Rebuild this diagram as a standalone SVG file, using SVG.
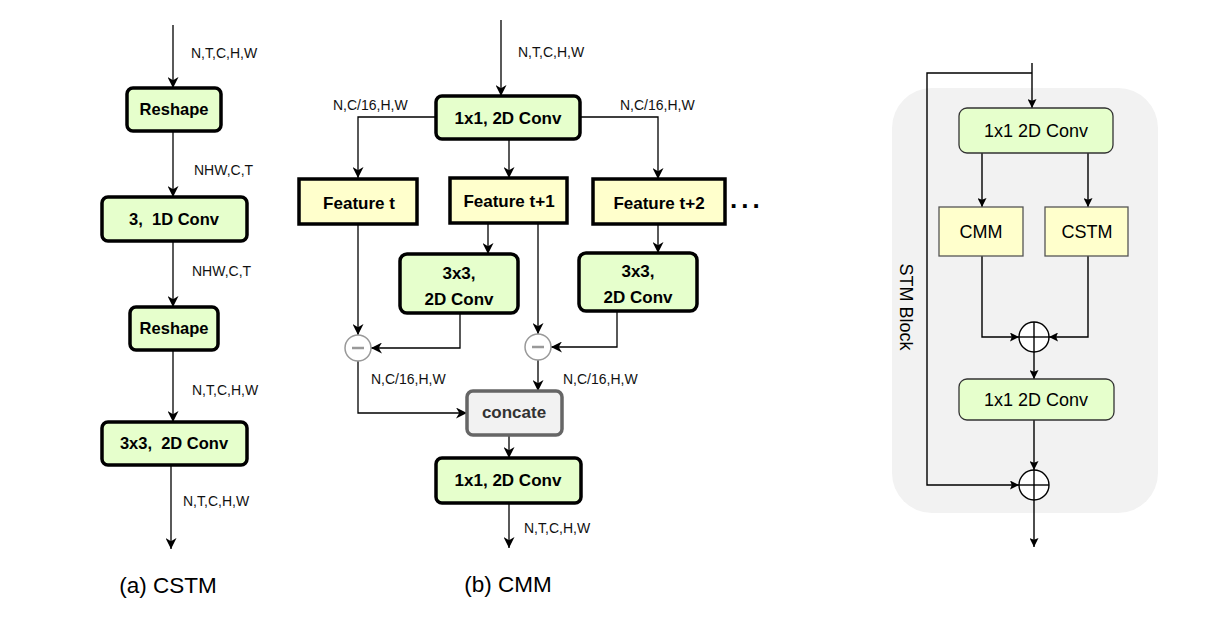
<svg xmlns="http://www.w3.org/2000/svg" width="1209" height="619" viewBox="0 0 1209 619">
<defs>
<marker id="ah" viewBox="0 0 10 10" refX="10" refY="5" markerWidth="11" markerHeight="11" markerUnits="userSpaceOnUse" orient="auto"><path d="M0,0 L10,5 L0,10 L3,5 z" fill="#000"/></marker>
<marker id="ahs" viewBox="0 0 10 10" refX="10" refY="5" markerWidth="9" markerHeight="9" markerUnits="userSpaceOnUse" orient="auto"><path d="M0,0 L10,5 L0,10 L2,5 z" fill="#000"/></marker>
</defs>
<style>
.bg{fill:#fff}
.gbox{fill:#e6ffcc;stroke:#000;stroke-width:3.5}
.ybox{fill:#ffffcc;stroke:#000;stroke-width:3.5}
.cbox{fill:#f2f2f2;stroke:#666;stroke-width:3.5}
.bt{font-family:"Liberation Sans",Arial,sans-serif;font-weight:bold;font-size:16.5px;fill:#000;text-anchor:middle}
.bt17{font-family:"Liberation Sans",Arial,sans-serif;font-weight:bold;font-size:17px;fill:#000;text-anchor:middle}
.lbl{font-family:"Liberation Sans",Arial,sans-serif;font-size:14px;fill:#111}
.cap{font-family:"Liberation Sans",Arial,sans-serif;font-size:22.5px;fill:#000;text-anchor:middle}
.conn{fill:none;stroke:#000;stroke-width:1.3}
.sconn{fill:none;stroke:#000;stroke-width:1.4}
.minus{fill:#fff;stroke:#999;stroke-width:1.5}
.mline{stroke:#999;stroke-width:2.5}
.sg{fill:#e6ffcc;stroke:#333;stroke-width:1.3}
.sy{fill:#ffffcc;stroke:#555;stroke-width:1.3}
.st{font-family:"Liberation Sans",Arial,sans-serif;font-size:18px;fill:#000;text-anchor:middle}
.plus{fill:#fff;stroke:#000;stroke-width:1.4}
</style>
<rect class="bg" x="0" y="0" width="1209" height="619"/>

<!-- STM background -->
<g id="stm-block">
<rect x="892" y="88" width="266" height="425" rx="40" ry="40" fill="#f2f2f2"/>
<text class="st" transform="translate(900,307) rotate(90)">STM Block</text>
</g>

<!-- connectors -->
<g id="connectors">
<!-- CSTM -->
<line class="conn" x1="173" y1="25" x2="173" y2="88" marker-end="url(#ah)"/>
<line class="conn" x1="173" y1="131" x2="173" y2="197" marker-end="url(#ah)"/>
<line class="conn" x1="173" y1="241" x2="173" y2="307" marker-end="url(#ah)"/>
<line class="conn" x1="173" y1="350" x2="173" y2="422" marker-end="url(#ah)"/>
<line class="conn" x1="171" y1="465" x2="171" y2="549" marker-end="url(#ah)"/>
<!-- CMM -->
<line class="conn" x1="501" y1="20" x2="501" y2="96" marker-end="url(#ah)"/>
<polyline class="conn" points="436,117 358,117 358,178" marker-end="url(#ah)"/>
<line class="conn" x1="509" y1="139" x2="509" y2="178" marker-end="url(#ah)"/>
<polyline class="conn" points="580,117 658,117 658,179" marker-end="url(#ah)"/>
<line class="conn" x1="488" y1="223" x2="488" y2="254" marker-end="url(#ah)"/>
<line class="conn" x1="658" y1="224" x2="658" y2="253" marker-end="url(#ah)"/>
<line class="conn" x1="358" y1="224" x2="358" y2="335" marker-end="url(#ah)"/>
<line class="conn" x1="538" y1="223" x2="538" y2="334" marker-end="url(#ah)"/>
<polyline class="conn" points="460,313 460,348 371,348" marker-end="url(#ah)"/>
<polyline class="conn" points="617,311 617,347 551,347" marker-end="url(#ah)"/>
<polyline class="conn" points="358,361 358,413 467,413" marker-end="url(#ah)"/>
<line class="conn" x1="538" y1="360" x2="538" y2="391" marker-end="url(#ah)"/>
<line class="conn" x1="509" y1="435" x2="509" y2="458" marker-end="url(#ah)"/>
<line class="conn" x1="509" y1="503" x2="509" y2="548" marker-end="url(#ah)"/>
<!-- STM -->
<line class="sconn" x1="1032" y1="63" x2="1032" y2="108" marker-end="url(#ahs)"/>
<polyline class="sconn" points="1032,73 927,73 927,485 1019,485" marker-end="url(#ahs)"/>
<line class="sconn" x1="982" y1="153" x2="982" y2="207" marker-end="url(#ahs)"/>
<line class="sconn" x1="1088" y1="153" x2="1088" y2="207" marker-end="url(#ahs)"/>
<polyline class="sconn" points="982,256 982,337 1019,337" marker-end="url(#ahs)"/>
<polyline class="sconn" points="1088,256 1088,337 1049,337" marker-end="url(#ahs)"/>
<line class="sconn" x1="1034" y1="352" x2="1034" y2="379" marker-end="url(#ahs)"/>
<line class="sconn" x1="1034" y1="420" x2="1034" y2="470" marker-end="url(#ahs)"/>
<line class="sconn" x1="1034" y1="500" x2="1034" y2="547" marker-end="url(#ahs)"/>
</g>

<!-- CSTM labels -->
<g id="cstm-labels">
<text class="lbl" x="191" y="58">N,T,C,H,W</text>
<text class="lbl" x="194" y="175">NHW,C,T</text>
<text class="lbl" x="192" y="276">NHW,C,T</text>
<text class="lbl" x="192" y="395">N,T,C,H,W</text>
<text class="lbl" x="183" y="506">N,T,C,H,W</text>
<text class="cap" x="168" y="593">(a) CSTM</text>
</g>

<g id="cstm-reshape1"><rect class="gbox" x="127" y="88" width="94" height="43" rx="6"/><text class="bt" x="174" y="115">Reshape</text></g>
<g id="cstm-1dconv"><rect class="gbox" x="102" y="197" width="145" height="44" rx="6"/><text class="bt" x="174" y="225" xml:space="preserve">3,  1D Conv</text></g>
<g id="cstm-reshape2"><rect class="gbox" x="130" y="307" width="88" height="43" rx="6"/><text class="bt" x="174" y="334">Reshape</text></g>
<g id="cstm-2dconv"><rect class="gbox" x="102" y="422" width="145" height="43" rx="6"/><text class="bt" x="174" y="449" xml:space="preserve">3x3,  2D Conv</text></g>

<!-- CMM labels -->
<g id="cmm-labels">
<text class="lbl" x="518" y="57">N,T,C,H,W</text>
<text class="lbl" x="333" y="110">N,C/16,H,W</text>
<text class="lbl" x="620" y="110">N,C/16,H,W</text>
<text class="lbl" x="371" y="384">N,C/16,H,W</text>
<text class="lbl" x="563" y="384">N,C/16,H,W</text>
<text class="lbl" x="524" y="533">N,T,C,H,W</text>
<text class="cap" x="508" y="592">(b) CMM</text>
<text x="730" y="208" font-family="Liberation Sans, Arial, sans-serif" font-weight="bold" font-size="26" letter-spacing="4">...</text>
</g>

<g id="cmm-conv-top"><rect class="gbox" x="436" y="96" width="144" height="43" rx="6"/><text class="bt17" x="508" y="124">1x1, 2D Conv</text></g>
<g id="cmm-feat-t"><rect class="ybox" x="299" y="179" width="118" height="45"/><text class="bt17" x="359" y="209">Feature t</text></g>
<g id="cmm-feat-t1"><rect class="ybox" x="450" y="178" width="117" height="45"/><text class="bt17" x="509" y="207">Feature t+1</text></g>
<g id="cmm-feat-t2"><rect class="ybox" x="593" y="179" width="132" height="45"/><text class="bt17" x="659" y="209">Feature t+2</text></g>
<g id="cmm-conv-a"><rect class="gbox" x="400" y="254" width="118" height="59" rx="7"/><text class="bt17" x="459" y="279">3x3,</text><text class="bt17" x="459" y="305">2D Conv</text></g>
<g id="cmm-conv-b"><rect class="gbox" x="579" y="253" width="118" height="58" rx="7"/><text class="bt17" x="638" y="277">3x3,</text><text class="bt17" x="638" y="303">2D Conv</text></g>
<g id="cmm-minus1"><circle class="minus" cx="358" cy="348" r="13"/><line class="mline" x1="352" y1="348" x2="364" y2="348"/></g>
<g id="cmm-minus2"><circle class="minus" cx="538" cy="347" r="13"/><line class="mline" x1="532" y1="347" x2="544" y2="347"/></g>
<g id="cmm-concate"><rect class="cbox" x="467" y="391" width="95" height="44" rx="6"/><text class="bt17" x="514" y="418" style="fill:#333">concate</text></g>
<g id="cmm-conv-bottom"><rect class="gbox" x="436" y="458" width="145" height="45" rx="6"/><text class="bt17" x="508" y="486">1x1, 2D Conv</text></g>

<!-- STM nodes -->
<g id="stm-conv-top"><rect class="sg" x="959" y="108" width="154" height="45" rx="8"/><text class="st" x="1036" y="137">1x1 2D Conv</text></g>
<g id="stm-cmm"><rect class="sy" x="939" y="207" width="84" height="49"/><text class="st" x="981" y="238">CMM</text></g>
<g id="stm-cstm"><rect class="sy" x="1045" y="207" width="83" height="49"/><text class="st" x="1087" y="238">CSTM</text></g>
<g id="stm-add1"><circle class="plus" cx="1034" cy="337" r="15"/><line class="sconn" x1="1019" y1="337" x2="1049" y2="337"/><line class="sconn" x1="1034" y1="322" x2="1034" y2="352"/></g>
<g id="stm-conv-bottom"><rect class="sg" x="959" y="379" width="155" height="41" rx="8"/><text class="st" x="1036" y="406">1x1 2D Conv</text></g>
<g id="stm-add2"><circle class="plus" cx="1034" cy="485" r="15"/><line class="sconn" x1="1019" y1="485" x2="1049" y2="485"/><line class="sconn" x1="1034" y1="470" x2="1034" y2="500"/></g>
</svg>
